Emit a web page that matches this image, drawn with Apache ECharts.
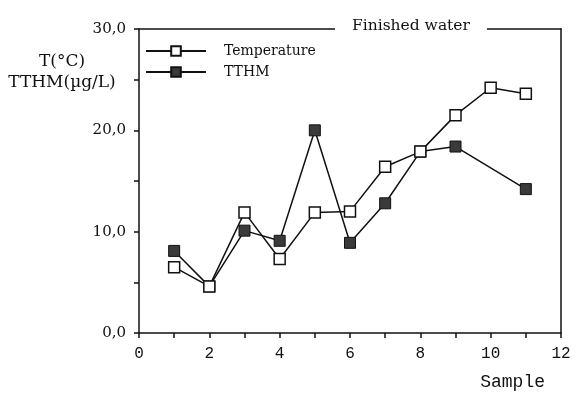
<!DOCTYPE html>
<html><head><meta charset="utf-8">
<script src="https://cdn.jsdelivr.net/npm/echarts@6/dist/echarts.min.js"></script>
<style>html,body{margin:0;padding:0;background:#fff}#c{width:577px;height:396px}</style>
</head><body><div id="c"></div>
<script>
const samples = [1,2,3,4,5,6,7,8,9,10,11];
const temperature = [6.5,4.6,11.9,7.3,11.9,12.0,16.4,17.9,21.5,24.2,23.6];
const tthm = [8.1,4.6,10.1,9.1,20.0,8.9,12.8,17.9,18.4,null,14.2];
const yTicks = [0,10,20,30];
const serif = 'DejaVu Serif';
const chart = echarts.init(document.getElementById('c'));
const pairs = (ys) => samples.map((x,i) => [x, ys[i]]);
chart.setOption({
  animation:false,
  backgroundColor:'#fff',
  title:[{text:'Finished water', left:335, top:18, padding:[0,17,0,17], backgroundColor:'#fff',
    textStyle:{fontFamily:serif, fontSize:15.5, fontWeight:'normal', color:'#111'}},
    {text:'T(°C)\nTTHM(µg/L)', left:62, top:51, textAlign:'center', padding:0,
    textStyle:{fontFamily:serif, fontSize:17, fontWeight:'normal', color:'#111', lineHeight:21, align:'center'}}],
  legend:{orient:'vertical', left:145, top:44, padding:0, itemWidth:60, itemHeight:12, itemGap:7,
    textStyle:{fontFamily:serif, fontSize:14, color:'#111', padding:[0,0,0,13]},
    data:['Temperature','TTHM']},
  grid:{left:139, right:16, top:29, bottom:63, outerBoundsMode:'none'},
  xAxis:[{type:'value', min:0, max:12, interval:1,
    name:'Sample', nameLocation:'end', nameGap:0,
    nameTextStyle:{fontFamily:'Liberation Mono', fontSize:18, color:'#111', align:'right', verticalAlign:'top', padding:[40,16,0,0]},
    axisLine:{lineStyle:{color:'#111', width:1.5}},
    axisTick:{length:5, lineStyle:{color:'#111', width:1.5}},
    splitLine:{show:false},
    axisLabel:{fontFamily:'Liberation Mono', fontSize:16, color:'#111', margin:13,
      formatter:v => v%2===0 ? String(v) : ''}},
   {type:'value', position:'top', min:0, max:12, axisLine:{show:true, onZero:false, lineStyle:{color:'#111', width:1.5}},
    axisTick:{show:false}, axisLabel:{show:false}, splitLine:{show:false}}],
  yAxis:[{type:'value', min:0, max:30, interval:5,
    axisLine:{show:true, lineStyle:{color:'#111', width:1.5}},
    axisTick:{length:5, lineStyle:{color:'#111', width:1.5}},
    splitLine:{show:false},
    axisLabel:{fontFamily:serif, fontSize:15, color:'#111', margin:13,
      formatter:v => yTicks.includes(v) ? v.toFixed(1).replace('.',',') : ''}},
   {type:'value', position:'right', min:0, max:30, axisLine:{show:true, onZero:false, lineStyle:{color:'#111', width:1.5}},
    axisTick:{show:false}, axisLabel:{show:false}, splitLine:{show:false}}],
  series:[
    {name:'TTHM', type:'line', data:pairs(tthm), connectNulls:true, symbol:'rect', symbolSize:11,
      lineStyle:{color:'#111', width:1.5}, itemStyle:{color:'#3a3a3a', borderColor:'#111', borderWidth:1}, z:2},
    {name:'Temperature', type:'line', data:pairs(temperature), symbol:'rect', symbolSize:11,
      lineStyle:{color:'#111', width:1.5}, itemStyle:{color:'#fff', borderColor:'#111', borderWidth:1.5}, z:3}
  ]
});
</script></body></html>
